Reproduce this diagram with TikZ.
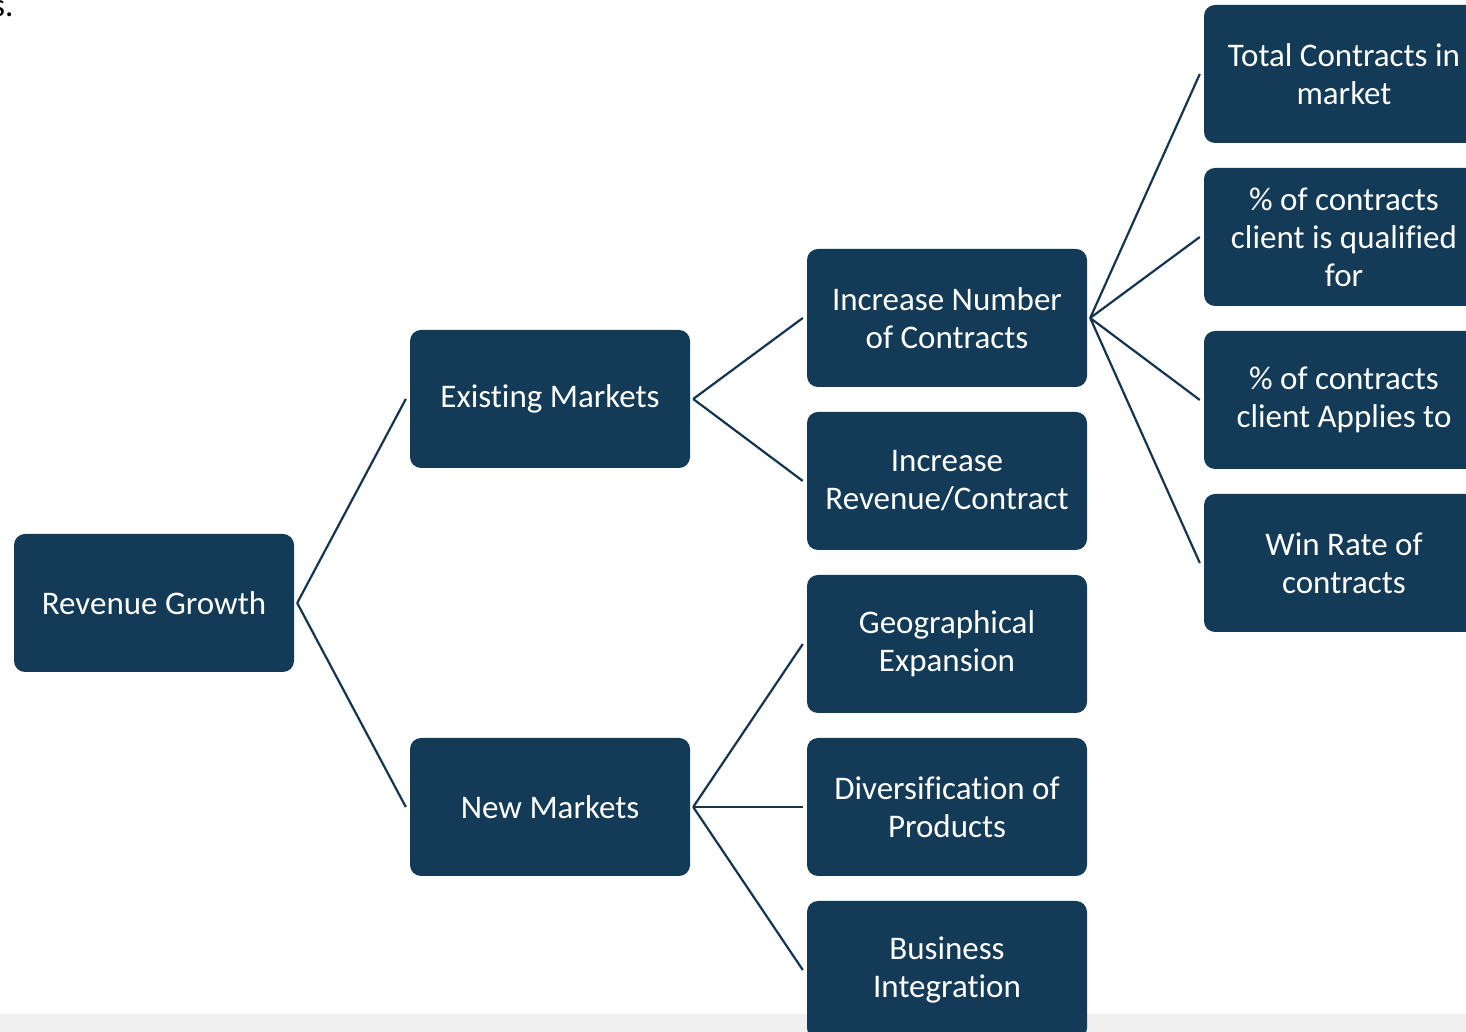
\documentclass[tikz,border=0pt]{standalone}
\usepackage{fontspec}
\setmainfont{Carlito}[RawFeature={-liga;-clig;-calt;-rlig;-dlig}]
\definecolor{boxblue}{HTML}{133A56}
\definecolor{linecol}{HTML}{143552}
\definecolor{stripgray}{HTML}{F0F0F0}
\begin{document}
\begin{tikzpicture}[x=1pt,y=1pt,
  box/.style={fill=boxblue, rounded corners=11pt, minimum width=280pt, minimum height=138pt,
    text=white, align=center, inner sep=0pt, font=\fontsize{33}{38}\selectfont},
  conn/.style={draw=linecol, line width=2.2pt}]
\useasboundingbox (0,0) rectangle (1466,1032);
\clip (0,0) rectangle (1466,1032);
\fill[white] (0,0) rectangle (1466,1032);
\fill[stripgray] (0,0) rectangle (1466,18);
\node[anchor=base west, inner sep=0pt, font=\fontsize{33}{38}\selectfont] (frag) at (-8,1015) {s.};
% column 1
\node[box] (rg) at (154,429) {Revenue Growth};
% column 2
\node[box] (em) at (550,633) {Existing Markets};
\node[box] (nm) at (550,225) {New Markets};
% column 3
\node[box] (inc) at (947,714) {Increase Number\\of Contracts};
\node[box] (irc) at (947,551) {Increase\\Revenue/Contract};
\node[box] (geo) at (947,388) {Geographical\\Expansion};
\node[box] (div) at (947,225) {Diversification of\\Products};
\node[box] (biz) at (947,62) {Business\\Integration};
% column 4
\node[box] (tot) at (1344,958) {Total Contracts in\\market};
\node[box] (qual) at (1344,795) {\% of contracts\\client is qualified\\for};
\node[box] (app) at (1344,632) {\% of contracts\\client Applies to};
\node[box] (win) at (1344,469) {Win Rate of\\contracts};
% connectors
\foreach \a/\b in {rg/em, rg/nm, em/inc, em/irc, nm/geo, nm/div, nm/biz, inc/tot, inc/qual, inc/app, inc/win}
  \draw[conn] ([xshift=3pt]\a.east) -- ([xshift=-4pt]\b.west);
\end{tikzpicture}
\end{document}
